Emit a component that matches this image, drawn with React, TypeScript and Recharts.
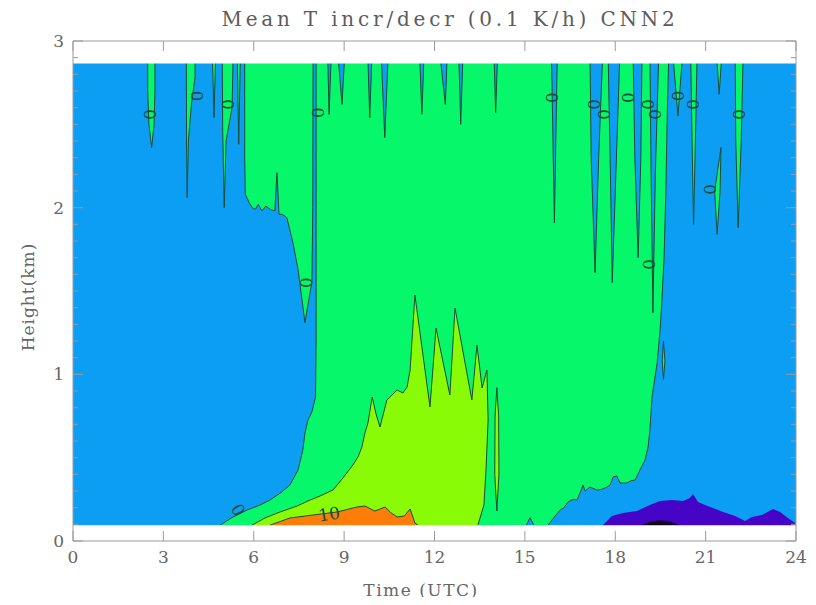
import { ComposedChart, Area, XAxis, YAxis, Scatter } from "recharts";

const BLUE = "#0c9ef2";
const GREEN = "#06f86a";
const YELLOW = "#8afb06";
const ORANGE = "#fe7d0a";
const PURPLE = "#4604c6";
const BLACK = "#12041c";
const LINE = "#1d4a36";
const FRAME = "#9a9a9a";
const TXT = "#666";
const FONT = "'DejaVu Serif', serif";

// field edges (km): data covers 0.095 .. 2.865
const FIELD_BOTTOM = 0.095;
const FIELD_TOP = 2.865;

const xTicks = [0, 3, 6, 9, 12, 15, 18, 21, 24];
const yTicks = [
  0, 0.1, 0.2, 0.3, 0.4, 0.5, 0.6, 0.7, 0.8, 0.9, 1, 1.1, 1.2, 1.3, 1.4, 1.5, 1.6, 1.7, 1.8, 1.9, 2,
  2.1, 2.2, 2.3, 2.4, 2.5, 2.6, 2.7, 2.8, 2.9, 3,
];

// contour outlines as [time (h), height (km)]
const background = [[0, 0.03], [0, 2.95], [24, 2.95], [24, 0.03]];

const greenMain = [
  [4.88, 0.03], [4.88, 0.095], [5.1, 0.12], [5.31, 0.144], [5.55, 0.165], [5.78, 0.186], [6.2, 0.215],
  [6.54, 0.246], [6.9, 0.29], [7.2, 0.336], [7.47, 0.426], [7.63, 0.546], [7.7, 0.648], [7.8, 0.726],
  [7.93, 0.774], [8.05, 0.864], [8.07, 1.2], [8.07, 2.95], [19.78, 2.95], [19.72, 2.5], [19.68, 2.1],
  [19.62, 1.7], [19.55, 1.45], [19.49, 1.27], [19.39, 1.068], [19.22, 0.864], [19.15, 0.666],
  [19.09, 0.564], [18.99, 0.486], [18.82, 0.426], [18.66, 0.366], [18.5, 0.36], [18.39, 0.348],
  [18.16, 0.348], [18.05, 0.39], [17.93, 0.384], [17.83, 0.336], [17.73, 0.324], [17.55, 0.31],
  [17.39, 0.306], [17.16, 0.324], [17.0, 0.3], [16.93, 0.336], [16.83, 0.288], [16.73, 0.246],
  [16.6, 0.25], [16.43, 0.234], [16.3, 0.2], [16.17, 0.186], [16.05, 0.16], [15.9, 0.126],
  [15.77, 0.095], [15.77, 0.03],
];

const peninsula = [
  [5.7, 2.95], [5.7, 2.3], [5.72, 2.08], [5.85, 2.03], [5.95, 2.0], [6.05, 1.99], [6.15, 2.02],
  [6.27, 1.98], [6.4, 2.01], [6.55, 1.99], [6.7, 1.98], [6.77, 2.21], [6.84, 1.96], [6.95, 1.96],
  [7.1, 1.94], [7.3, 1.79], [7.47, 1.63], [7.6, 1.45], [7.7, 1.31], [7.8, 1.42], [7.93, 1.55],
  [7.96, 2.0], [7.97, 2.95],
];

// green fingers hanging into the blue
const greenFingerA = [[2.48, 2.95], [2.48, 2.7], [2.52, 2.5], [2.61, 2.36], [2.69, 2.5], [2.72, 2.7], [2.72, 2.95]];
const greenFingerB = [[3.76, 2.95], [3.77, 2.4], [3.79, 2.06], [3.83, 2.4], [3.93, 2.62], [4.05, 2.78], [4.06, 2.95]];
const greenFingerC = [[4.62, 2.95], [4.68, 2.54], [4.74, 2.95]];
const greenFingerD = [[4.95, 2.95], [4.97, 2.45], [5.02, 2.0], [5.08, 2.4], [5.28, 2.6], [5.32, 2.95]];
const greenFingerE = [[5.45, 2.95], [5.5, 2.38], [5.56, 2.95]];
const greenFingerF = [[19.9, 2.95], [20.08, 2.55], [20.25, 2.95]];
const greenFingerG = [[20.5, 2.95], [20.55, 2.4], [20.6, 1.9], [20.66, 2.4], [20.72, 2.95]];
const greenFingerH = [[21.35, 2.95], [21.45, 2.68], [21.55, 2.95]];
const greenFingerI = [[21.98, 2.95], [22.0, 2.4], [22.08, 1.88], [22.18, 2.4], [22.25, 2.95]];
const greenLensA = [[21.51, 2.36], [21.3, 2.1], [21.38, 1.84], [21.48, 2.1], [21.51, 2.36]];
const greenLensB = [[19.6, 1.2], [19.56, 1.08], [19.6, 0.97], [19.65, 1.08], [19.6, 1.2]];

// blue fingers hanging into the green
const blueFingerA = [[8.45, 2.95], [8.5, 2.56], [8.58, 2.95]];
const blueFingerB = [[8.78, 2.95], [8.93, 2.62], [9.03, 2.95]];
const blueFingerC = [[9.78, 2.95], [9.85, 2.54], [9.93, 2.95]];
const blueFingerD = [[10.22, 2.95], [10.35, 2.42], [10.47, 2.95]];
const blueFingerE = [[11.5, 2.95], [11.58, 2.56], [11.66, 2.95]];
const blueFingerF = [[12.16, 2.95], [12.36, 2.62], [12.43, 2.95]];
const blueFingerG = [[12.8, 2.95], [12.87, 2.5], [12.95, 2.95]];
const blueFingerH = [[13.97, 2.95], [14.03, 2.57], [14.1, 2.95]];
const blueFingerI = [[15.88, 2.95], [15.98, 1.91], [16.08, 2.95]];
const blueFingerJ = [[17.16, 2.95], [17.2, 2.3], [17.33, 1.61], [17.45, 2.3], [17.59, 2.95]];
const blueFingerK = [[17.76, 2.95], [17.84, 2.2], [17.9, 1.55], [18.02, 2.2], [18.16, 2.95]];
const blueFingerL = [[18.59, 2.95], [18.65, 2.3], [18.76, 1.7], [18.85, 2.3], [18.89, 2.95]];
const blueFingerM = [[19.15, 2.95], [19.19, 2.2], [19.25, 1.37], [19.33, 2.2], [19.45, 2.95]];
const blueBump = [[15.05, 0.03], [15.05, 0.095], [15.17, 0.14], [15.3, 0.095], [15.3, 0.03]];

const yellow = [
  [5.94, 0.03], [5.94, 0.095], [6.37, 0.138], [6.87, 0.174], [7.44, 0.21], [7.87, 0.246], [8.2, 0.27],
  [8.63, 0.306], [8.96, 0.378], [9.29, 0.456], [9.46, 0.504], [9.59, 0.564], [9.69, 0.648],
  [9.79, 0.708], [9.93, 0.864], [10.06, 0.762], [10.19, 0.684], [10.42, 0.846], [10.76, 0.906],
  [10.95, 0.888], [11.09, 0.924], [11.19, 1.026], [11.35, 1.476], [11.85, 0.804], [12.05, 1.278],
  [12.51, 0.876], [12.68, 1.398], [13.24, 0.846], [13.41, 1.176], [13.58, 0.918], [13.74, 1.026],
  [13.78, 0.726], [13.71, 0.426], [13.64, 0.216], [13.44, 0.095], [13.44, 0.03],
];
const yellowLens = [[14.07, 0.18], [14.0, 0.4], [14.01, 0.75], [14.07, 0.92], [14.13, 0.75], [14.14, 0.4], [14.07, 0.18]];

const orange = [
  [6.54, 0.03], [6.54, 0.095], [7.2, 0.138], [7.97, 0.156], [8.76, 0.174], [9.43, 0.204], [9.69, 0.21],
  [10.02, 0.18], [10.36, 0.204], [10.55, 0.17], [10.76, 0.144], [11.0, 0.15], [11.19, 0.192],
  [11.35, 0.108], [11.45, 0.095], [11.45, 0.03],
];

const purple = [
  [17.55, 0.03], [17.59, 0.095], [17.89, 0.15], [18.26, 0.168], [18.72, 0.18], [19.15, 0.216],
  [19.49, 0.24], [19.88, 0.246], [20.25, 0.24], [20.48, 0.258], [20.58, 0.282], [20.75, 0.234],
  [20.98, 0.216], [21.24, 0.198], [21.58, 0.174], [21.98, 0.15], [22.31, 0.12], [22.54, 0.144],
  [22.87, 0.156], [23.24, 0.192], [23.47, 0.174], [23.73, 0.138], [23.97, 0.108], [24, 0.095], [24, 0.03],
];
const blackCore = [[18.9, 0.03], [18.9, 0.098], [19.15, 0.115], [19.5, 0.125], [19.85, 0.115], [20.1, 0.098], [20.1, 0.03]];

// white margins inside the frame, above and below the field
const marginBottom = [[0, FIELD_BOTTOM], [24, FIELD_BOTTOM]];
const marginTop = [[0, FIELD_TOP], [24, FIELD_TOP]];

const contourLabels = [
  { x: 2.56, y: 2.56, t: "0", r: 90 }, { x: 4.12, y: 2.67, t: "0", r: 90 },
  { x: 5.15, y: 2.62, t: "0", r: 90 }, { x: 8.13, y: 2.57, t: "0", r: 90 },
  { x: 7.73, y: 1.55, t: "0", r: 90 }, { x: 15.9, y: 2.66, t: "0", r: 90 },
  { x: 17.29, y: 2.62, t: "0", r: 90 }, { x: 17.63, y: 2.56, t: "0", r: 90 },
  { x: 18.42, y: 2.66, t: "0", r: 90 }, { x: 19.09, y: 2.62, t: "0", r: 90 },
  { x: 19.32, y: 2.56, t: "0", r: 90 }, { x: 20.08, y: 2.67, t: "0", r: 90 },
  { x: 20.58, y: 2.62, t: "0", r: 90 }, { x: 22.11, y: 2.56, t: "0", r: 90 },
  { x: 19.12, y: 1.66, t: "0", r: 90 }, { x: 21.15, y: 2.11, t: "0", r: 90 },
  { x: 5.48, y: 0.186, t: "0", r: 60 }, { x: 8.5, y: 0.162, t: "10", r: -8 },
];

const HANG = 2.95;
const STAND = 0.03;

const layers = [
  { id: "bg", d: background, fill: BLUE, base: STAND, line: false },
  { id: "green", d: greenMain, fill: GREEN, base: STAND, line: true },
  { id: "pen", d: peninsula, fill: GREEN, base: HANG, line: true },
  { id: "gA", d: greenFingerA, fill: GREEN, base: HANG, line: true },
  { id: "gB", d: greenFingerB, fill: GREEN, base: HANG, line: true },
  { id: "gC", d: greenFingerC, fill: GREEN, base: HANG, line: true },
  { id: "gD", d: greenFingerD, fill: GREEN, base: HANG, line: true },
  { id: "gE", d: greenFingerE, fill: GREEN, base: HANG, line: true },
  { id: "gF", d: greenFingerF, fill: GREEN, base: HANG, line: true },
  { id: "gG", d: greenFingerG, fill: GREEN, base: HANG, line: true },
  { id: "gH", d: greenFingerH, fill: GREEN, base: HANG, line: true },
  { id: "gI", d: greenFingerI, fill: GREEN, base: HANG, line: true },
  { id: "gLA", d: greenLensA, fill: GREEN, base: 2.36, line: true },
  { id: "gLB", d: greenLensB, fill: GREEN, base: 1.2, line: true },
  { id: "bA", d: blueFingerA, fill: BLUE, base: HANG, line: true },
  { id: "bB", d: blueFingerB, fill: BLUE, base: HANG, line: true },
  { id: "bC", d: blueFingerC, fill: BLUE, base: HANG, line: true },
  { id: "bD", d: blueFingerD, fill: BLUE, base: HANG, line: true },
  { id: "bE", d: blueFingerE, fill: BLUE, base: HANG, line: true },
  { id: "bF", d: blueFingerF, fill: BLUE, base: HANG, line: true },
  { id: "bG", d: blueFingerG, fill: BLUE, base: HANG, line: true },
  { id: "bH", d: blueFingerH, fill: BLUE, base: HANG, line: true },
  { id: "bI", d: blueFingerI, fill: BLUE, base: HANG, line: true },
  { id: "bJ", d: blueFingerJ, fill: BLUE, base: HANG, line: true },
  { id: "bK", d: blueFingerK, fill: BLUE, base: HANG, line: true },
  { id: "bL", d: blueFingerL, fill: BLUE, base: HANG, line: true },
  { id: "bM", d: blueFingerM, fill: BLUE, base: HANG, line: true },
  { id: "bump", d: blueBump, fill: BLUE, base: STAND, line: true },
  { id: "yel", d: yellow, fill: YELLOW, base: STAND, line: true },
  { id: "yelL", d: yellowLens, fill: YELLOW, base: 0.18, line: true },
  { id: "org", d: orange, fill: ORANGE, base: STAND, line: true },
  { id: "pur", d: purple, fill: PURPLE, base: STAND, line: false },
  { id: "blk", d: blackCore, fill: BLACK, base: STAND, line: false },
  { id: "mB", d: marginBottom, fill: "#fff", base: 0, line: false },
  { id: "mT", d: marginTop, fill: "#fff", base: 3, line: false },
];

const toPoints = (p: number[][]) => p.map(([x, y]) => ({ x, y }));

const isMajor = (v: number) => Math.abs(v - Math.round(v)) < 1e-6;

const BottomTick = (p: any) => (
  <g>
    <line x1={p.x} x2={p.x} y1={p.y} y2={p.y - 10} stroke={FRAME} />
    <text x={p.x} y={p.y + 22} textAnchor="middle" fontFamily={FONT} fontSize={17} fill={TXT}>
      {p.payload.value}
    </text>
  </g>
);
const TopTick = (p: any) => <line x1={p.x} x2={p.x} y1={p.y} y2={p.y + 10} stroke={FRAME} />;
const LeftTick = (p: any) => {
  const v = p.payload.value;
  const major = isMajor(v);
  return (
    <g>
      <line x1={p.x} x2={p.x + (major ? 10 : 5)} y1={p.y} y2={p.y} stroke={FRAME} />
      {major && (
        <text x={p.x - 9} y={p.y} dy="0.36em" textAnchor="end" fontFamily={FONT} fontSize={17} fill={TXT}>
          {Math.round(v)}
        </text>
      )}
    </g>
  );
};
const RightTick = (p: any) => {
  const len = isMajor(p.payload.value) ? 10 : 5;
  return <line x1={p.x} x2={p.x - len} y1={p.y} y2={p.y} stroke={FRAME} />;
};

const ContourLabel = (p: any) => (
  <text
    x={p.cx}
    y={p.cy}
    transform={`rotate(${p.payload.r} ${p.cx} ${p.cy})`}
    textAnchor="middle"
    dominantBaseline="central"
    fontFamily={FONT}
    fontSize={17}
    fill={LINE}
  >
    {p.payload.t}
  </text>
);

export default function App() {
  return (
    <div style={{ position: "relative", width: 800, height: 589 }}>
      <ComposedChart width={800} height={589} margin={{ top: 32, right: 11, bottom: 16, left: 25 }}>
        {layers.map((l) => (
          <Area
            key={l.id}
            data={toPoints(l.d)}
            dataKey="y"
            type="linear"
            baseValue={l.base}
            fill={l.fill}
            fillOpacity={1}
            stroke={l.line ? LINE : "none"}
            strokeWidth={1}
            dot={false}
            activeDot={false}
            isAnimationActive={false}
          />
        ))}
        <Scatter data={contourLabels} shape={ContourLabel} isAnimationActive={false} />
        <XAxis
          dataKey="x"
          type="number"
          domain={[0, 24]}
          allowDataOverflow
          ticks={xTicks}
          interval={0}
          height={40}
          tickSize={0}
          tickMargin={0}
          tickLine={false}
          axisLine={{ stroke: FRAME }}
          tick={BottomTick}
        />
        <XAxis
          xAxisId="top"
          orientation="top"
          dataKey="x"
          type="number"
          domain={[0, 24]}
          allowDataOverflow
          ticks={xTicks}
          interval={0}
          height={1}
          tickSize={0}
          tickMargin={0}
          tickLine={false}
          axisLine={{ stroke: FRAME }}
          tick={TopTick}
        />
        <YAxis
          dataKey="y"
          type="number"
          domain={[0, 3]}
          allowDataOverflow
          ticks={yTicks}
          interval={0}
          width={40}
          tickSize={0}
          tickMargin={0}
          tickLine={false}
          axisLine={{ stroke: FRAME }}
          tick={LeftTick}
        />
        <YAxis
          yAxisId="right"
          orientation="right"
          type="number"
          domain={[0, 3]}
          allowDataOverflow
          ticks={yTicks}
          interval={0}
          width={1}
          tickSize={0}
          tickMargin={0}
          tickLine={false}
          axisLine={{ stroke: FRAME }}
          tick={RightTick}
        />
      </ComposedChart>
      <div
        style={{
          position: "absolute",
          left: 442,
          top: 1,
          transform: "translateX(-50%)",
          whiteSpace: "nowrap",
          fontFamily: FONT,
          fontSize: 20,
          lineHeight: "20px",
          letterSpacing: 3.8,
          color: "#5c5c5c",
        }}
      >
        Mean T incr/decr (0.1 K/h) CNN2
      </div>
      <div
        style={{
          position: "absolute",
          left: 413,
          top: 574,
          transform: "translateX(-50%)",
          whiteSpace: "nowrap",
          fontFamily: FONT,
          fontSize: 17,
          lineHeight: "17px",
          letterSpacing: 1.5,
          color: TXT,
        }}
      >
        Time (UTC)
      </div>
      <div
        style={{
          position: "absolute",
          left: 20,
          top: 289,
          transform: "translate(-50%, -50%) rotate(-90deg)",
          whiteSpace: "nowrap",
          fontFamily: FONT,
          fontSize: 17,
          lineHeight: "17px",
          letterSpacing: 1,
          color: TXT,
        }}
      >
        Height(km)
      </div>
    </div>
  );
}
